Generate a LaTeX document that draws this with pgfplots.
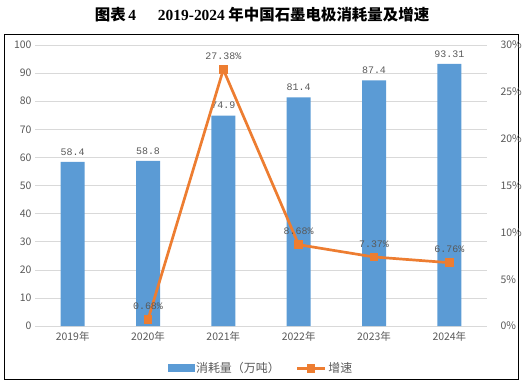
\documentclass[border=0pt]{standalone}
\usepackage{fontspec}
\setmainfont{Liberation Sans}
\newfontfamily\cjk{Noto Sans CJK SC}
\newfontfamily\titlefont{Liberation Serif}
\newfontfamily\labmono{Liberation Mono}
\usepackage{pgfplots}
\pgfplotsset{compat=1.18}
\definecolor{barblue}{HTML}{5B9BD5}
\definecolor{lineorange}{HTML}{ED7D31}
\definecolor{txtgray}{HTML}{595959}
\definecolor{gridgray}{HTML}{D9D9D9}
\begin{document}
\begin{tikzpicture}[x=1bp,y=1bp]
\path[use as bounding box] (0,0) rectangle (532,383);
\draw[black, line width=0.8bp] (4,4) rectangle (518,349);
\node[font=\cjk\bfseries\fontsize{15.5}{18}\selectfont] at (262,368)
  {图表\,{\titlefont\bfseries 4}\hspace{22bp}{\titlefont\bfseries 2019-2024} 年中国石墨电极消耗量及增速};
\begin{axis}[
  at={(35bp,57bp)}, anchor=south west, scale only axis,
  width=452bp, height=281bp,
  xmin=-0.5, xmax=5.5, ymin=0, ymax=100,
  xtick={0,...,5},
  xticklabels={2019年,2020年,2021年,2022年,2023年,2024年},
  ytick={0,10,...,100},
  axis line style={draw=none}, tick style={draw=none},
  ymajorgrids, grid style={gridgray, line width=0.6bp},
  ticklabel style={font=\cjk\fontsize{10.5}{12}\selectfont, text=txtgray},
  /pgf/number format/assume math mode=true,
  xticklabel style={yshift=-2bp},
  clip=false,
]
\addplot[ybar, bar width=24bp, fill=barblue, draw=none,
  point meta=explicit symbolic,
  nodes near coords,
  every node near coord/.append style={font=\labmono\fontsize{10}{12}\selectfont, text=txtgray, yshift=3bp}]
  coordinates {(0,58.4) [58.4] (1,58.8) [58.8] (2,74.9) [74.9] (3,81.4) [81.4] (4,87.4) [87.4] (5,93.31) [93.31]};
\end{axis}
\begin{axis}[
  at={(35bp,57bp)}, anchor=south west, scale only axis,
  width=452bp, height=281bp,
  xmin=-0.5, xmax=5.5, ymin=0, ymax=30,
  axis y line*=right, axis x line=none,
  ytick={0,5,...,30},
  yticklabel={\pgfmathprintnumber{\tick}\%},
  axis line style={draw=none}, tick style={draw=none},
  ticklabel style={font=\cjk\fontsize{10.5}{12}\selectfont, text=txtgray},
  /pgf/number format/assume math mode=true,
  yticklabel style={xshift=10bp},
  clip=false,
  legend style={at={(0.5,-0.15)}, anchor=center, draw=none, fill=none,
    legend columns=2, font=\cjk\fontsize{12}{14}\selectfont, text=txtgray,
    /tikz/every even column/.append style={column sep=14bp}},
]
\addlegendimage{legend image code/.code={\fill[barblue] (0bp,-3.5bp) rectangle (26bp,3.5bp);}}
\addlegendentry{消耗量（万吨）}
\addplot[lineorange, line width=2.7bp, mark=square*, mark size=3bp,
  mark options={fill=lineorange, draw=lineorange},
  legend image code/.code={\draw[lineorange, line width=2.7bp] (0bp,0bp) -- (28bp,0bp); \fill[lineorange] (11bp,-3bp) rectangle (17bp,3bp);},
  point meta=explicit symbolic,
  nodes near coords,
  every node near coord/.append style={font=\labmono\fontsize{10}{12}\selectfont, text=txtgray, yshift=5bp}]
  coordinates {(1,0.68) [0.68\%] (2,27.38) [27.38\%] (3,8.68) [8.68\%] (4,7.37) [7.37\%] (5,6.76) [6.76\%]};
\addlegendentry{增速}
\end{axis}
\end{tikzpicture}
\end{document}
